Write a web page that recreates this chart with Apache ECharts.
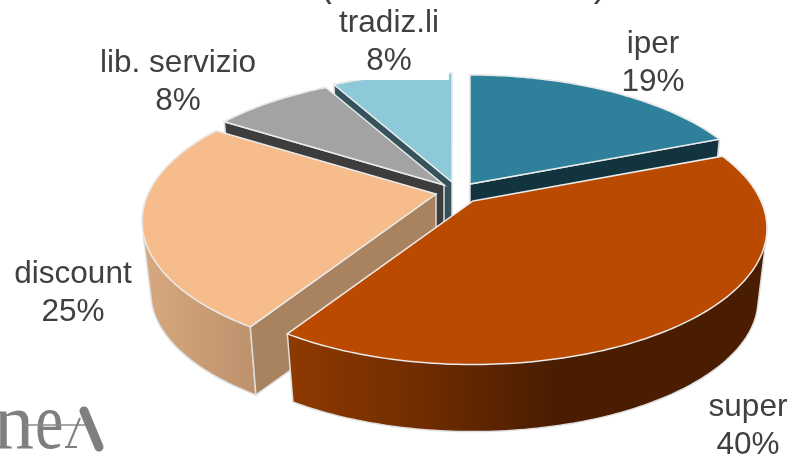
<!DOCTYPE html>
<html><head><meta charset="utf-8">
<style>html,body{margin:0;padding:0;background:#fff}#c{width:806px;height:461px}</style>
<script src="https://cdn.jsdelivr.net/npm/echarts@6/dist/echarts.min.js"></script>
</head><body><div id="c"></div>
<script>
const categories = ['iper','super','discount','lib. servizio','tradiz.li'];
const shares = [19,40,25,8,8];

const FONT = '"Liberation Sans", Arial, sans-serif';
const SERIF = '"Liberation Serif", serif';
const topColors  = ['#2E809B','#B94A00','#F7BC8C','#A3A3A3','#8EC9D9'];
const sideColors = ['#12343F','#4A1D00','#A98260','#3D3D3D','#34535C'];
const wallStops  = [
  [[0,'#12343F'],[1,'#12343F']],
  [[0,'#8E3A00'],[0.25,'#742E00'],[0.55,'#4A1D00'],[1,'#4A1D00']],
  [[0,'#D8A97F'],[1,'#BC916C']],
  [[0,'#3D3D3D'],[1,'#3D3D3D']],
  [[0,'#34535C'],[1,'#34535C']]
];
// apex of each exploded slice
const apexX = [470,473,436,444,452];
const apexY = [184,201,194,185,182];
const labelX = [653,748,73,178,389];
const labelY = [63,426,293,82,42];
const drawOrder = [4,0,3,2,1];

const RX = 288, RY = 130.8, K = 0.2, DEPTH = 72, SHRINK = 0.97;

const starts = [];
shares.reduce((s,v,i)=>{starts[i]=s;return s+v;},0);
const total = shares.reduce((a,b)=>a+b,0);

function project(i,theta,bottom){
  const u=Math.sin(theta), v=-Math.cos(theta), d=1-K*v;
  const s=bottom?SHRINK:1;
  return [apexX[i]+s*RX*u/d, apexY[i]+(bottom?DEPTH:0)+s*RY*v/d];
}
function arc(i,a0,a1,bottom){
  const pts=[], n=Math.max(2,Math.ceil((a1-a0)*180/Math.PI));
  for(let k=0;k<=n;k++) pts.push(project(i,a0+(a1-a0)*k/n,bottom));
  return pts;
}
// outline swept by the wall between the top and bottom rims
function hull(points){
  const p=points.slice().sort((a,b)=>a[0]-b[0]||a[1]-b[1]);
  const cross=(o,a,b)=>(a[0]-o[0])*(b[1]-o[1])-(a[1]-o[1])*(b[0]-o[0]);
  const lo=[],up=[];
  for(const q of p){while(lo.length>1&&cross(lo[lo.length-2],lo[lo.length-1],q)<=0)lo.pop();lo.push(q);}
  for(const q of p.slice().reverse()){while(up.length>1&&cross(up[up.length-2],up[up.length-1],q)<=0)up.pop();up.push(q);}
  return lo.slice(0,-1).concat(up.slice(0,-1));
}
function renderItem(params,api){
  const i=api.value(0);
  const a0=starts[i]/total*2*Math.PI, a1=(starts[i]+shares[i])/total*2*Math.PI;
  const topArc=arc(i,a0,a1,false), botArc=arc(i,a0,a1,true);
  const apexT=[apexX[i],apexY[i]], apexB=[apexX[i],apexY[i]+DEPTH];
  const edge='#DEDEDE';
  const wallFill={type:'linear',x:0,y:0,x2:1,y2:0,global:false,
    colorStops:wallStops[i].map(s=>({offset:s[0],color:s[1]}))};
  const radial=(a)=>({type:'polygon',shape:{points:[apexT,project(i,a,false),project(i,a,true),apexB]},
    style:{fill:sideColors[i],stroke:edge,lineWidth:1.5}});
  const children=[];
  children.push({type:'polygon',shape:{points:hull(topArc.concat(botArc))},
    style:{fill:wallFill,stroke:edge,lineWidth:1.5}});
  const eps=1e-6;
  if(Math.sin(a0)<-eps) children.push(radial(a0));
  if(Math.sin(a1)>eps) children.push(radial(a1));
  children.push({type:'polygon',shape:{points:[apexT].concat(topArc)},
    style:{fill:topColors[i],stroke:'#EBEBEB',lineWidth:1.5}});
  children.push({type:'text',x:labelX[i],y:labelY[i],style:{
    text:categories[i]+'\n'+shares[i]+'%',fill:'#404040',font:'31.5px '+FONT,lineHeight:38,
    align:'center',verticalAlign:'middle',
    backgroundColor:i===4?'#fff':'transparent',padding:i===4?[0,10,0,10]:0}});
  return {type:'group',children};
}
const chart=echarts.init(document.getElementById('c'),null,{renderer:'canvas'});
const logoGrey='#7F7F7F';
chart.setOption({
  animation:false,
  backgroundColor:'#fff',
  series:[{type:'custom',coordinateSystem:'none',renderItem,
    data:drawOrder.map(i=>[i,shares[i]]),silent:true,clip:false}],
  graphic:[
    {type:'text',x:327,y:7,style:{text:'(',fill:'#404040',font:'38px '+FONT,align:'center',verticalAlign:'bottom'}},
    {type:'text',x:600,y:5,style:{text:')',fill:'#404040',font:'38px '+FONT,align:'center',verticalAlign:'bottom'}},
    {type:'text',x:-6,y:427,style:{text:'n',fill:logoGrey,font:'80px '+SERIF,align:'left',verticalAlign:'middle'}},
    {type:'text',x:35,y:427,scaleX:0.8,style:{text:'e',fill:logoGrey,font:'80px '+SERIF,align:'left',verticalAlign:'middle'}},
    {type:'line',shape:{x1:25,y1:425,x2:92,y2:425},style:{stroke:'#8A8A8A',lineWidth:1.5}},
    {type:'line',shape:{x1:84,y1:411,x2:99,y2:447},style:{stroke:logoGrey,lineWidth:9,lineCap:'round'}},
    {type:'line',shape:{x1:68,y1:447,x2:80,y2:418},style:{stroke:logoGrey,lineWidth:2}},
    {type:'line',shape:{x1:65,y1:447,x2:77,y2:447},style:{stroke:logoGrey,lineWidth:2}}
  ]
});
</script></body></html>
